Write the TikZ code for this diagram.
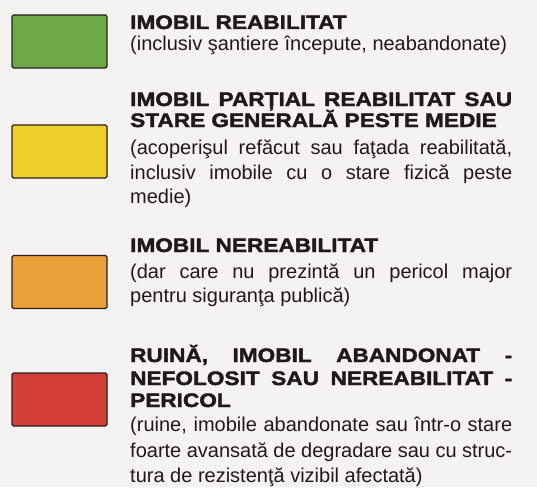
\documentclass[tikz,border=0pt]{standalone}
\usepackage{fontspec}
\setmainfont{Liberation Sans}
\newfontfamily\titlefont{Liberation Sans Bold}[FakeStretch=1.16,FakeBold=2]
\newfontfamily\bodyfont{Liberation Sans}
\definecolor{bg}{RGB}{245,243,241}
\definecolor{txt}{RGB}{30,26,26}
\definecolor{boxline}{RGB}{40,32,32}
\definecolor{cgreen}{RGB}{110,169,72}
\definecolor{cyellow}{RGB}{238,206,42}
\definecolor{corange}{RGB}{232,160,58}
\definecolor{cred}{RGB}{212,62,56}
\newcommand\jl[1]{\makebox[382pt][s]{#1}}
\tikzset{
  ttl/.style={anchor=base west, inner sep=0pt, text=txt, font=\titlefont\fontsize{19.5}{21}\selectfont},
  bdy/.style={anchor=base west, inner sep=0pt, text=txt, font=\bodyfont\fontsize{20}{24}\selectfont},
  swatch/.style={draw=boxline, line width=1.4pt, rounded corners=1.5pt, minimum width=95pt, minimum height=53pt, inner sep=0pt}
}
\begin{document}
\begin{tikzpicture}[x=1pt,y=-1pt]
\fill[bg] (0,0) rectangle (537,487);
\useasboundingbox (0,0) rectangle (537,487);
% swatches
\node[swatch, fill=cgreen]  (sg) at (59.5,41.5) {};
\node[swatch, fill=cyellow] (sy) at (59.5,151.5) {};
\node[swatch, fill=corange] (so) at (59.5,282) {};
\node[swatch, fill=cred]    (sr) at (59.5,399.5) {};
% green
\node[ttl] (g1) at (130,29) {IMOBIL REABILITAT};
\node[bdy] (g2) at (130,50) {(inclusiv şantiere începute, neabandonate)};
% yellow
\node[ttl] (y1) at (130,106) {\jl{IMOBIL PARȚIAL REABILITAT SAU}};
\node[ttl] (y2) at (130,127) {STARE GENERALĂ PESTE MEDIE};
\node[bdy] (y3) at (130,154) {\jl{(acoperişul refăcut sau faţada reabilitată,}};
\node[bdy] (y4) at (130,179) {\jl{inclusiv imobile cu o stare fizică peste}};
\node[bdy] (y5) at (130,203) {medie)};
% orange
\node[ttl] (o1) at (130,252) {IMOBIL NEREABILITAT};
\node[bdy] (o2) at (130,278) {\jl{(dar care nu prezintă un pericol major}};
\node[bdy] (o3) at (130,302) {pentru siguranţa publică)};
% red
\node[ttl] (r1) at (130,362) {\jl{RUINĂ, IMOBIL ABANDONAT -}};
\node[ttl] (r2) at (130,385) {\jl{NEFOLOSIT SAU NEREABILITAT -}};
\node[ttl] (r3) at (130,407) {PERICOL};
\node[bdy] (r4) at (130,431) {\jl{(ruine, imobile abandonate sau într-o stare}};
\node[bdy] (r5) at (130,457) {\jl{foarte avansată de degradare sau cu struc-}};
\node[bdy] (r6) at (130,482) {tura de rezistenţă vizibil afectată)};
\end{tikzpicture}
\end{document}
